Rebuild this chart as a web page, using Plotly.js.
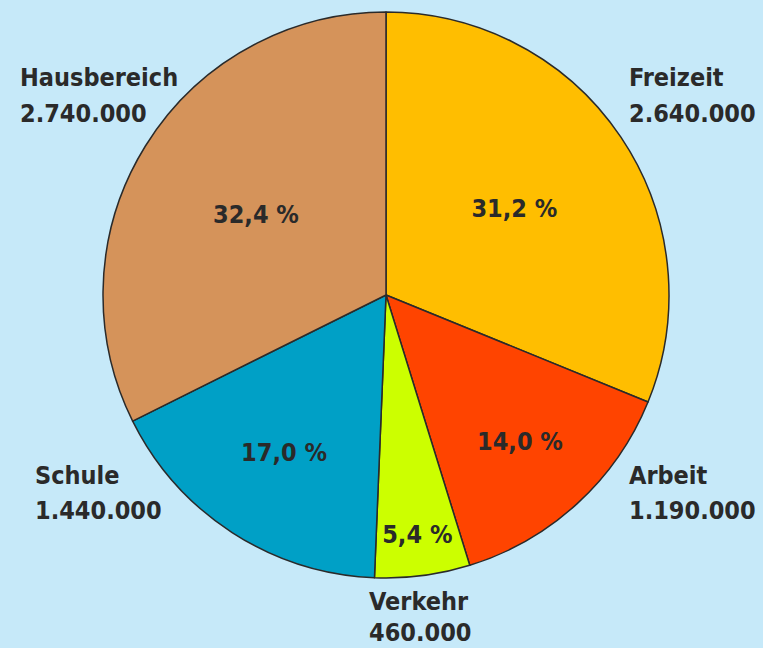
<!DOCTYPE html>
<html>
<head>
<meta charset="utf-8">
<script src="https://cdn.plot.ly/plotly-3.0.1.min.js"></script>
<style>html,body{margin:0;padding:0;background:#c6e9f9;}</style>
</head>
<body>
<div id="chart" style="width:763px;height:648px;"></div>
<script>
const categories = ["Freizeit", "Arbeit", "Verkehr", "Schule", "Hausbereich"];
const values = [2640000, 1190000, 460000, 1440000, 2740000];
const percents = [31.2, 14.0, 5.4, 17.0, 32.4];
const colors = ["#ffbe00", "#ff4400", "#ccff00", "#00a0c6", "#d5935a"];

const pctText = percents.map(p => p.toFixed(1).replace('.', ',') + ' %');
const fmt = v => String(v).replace(/\B(?=(\d{3})+(?!\d))/g, '.');

// outside label anchor positions in pixels: [x left, name centre y, value centre y]
const labelPos = [
  [627, 78, 113],
  [627, 475, 511],
  [367, 601, 632],
  [33, 475, 511],
  [18, 78, 113]
];

const FONT = 'DejaVu Sans Condensed';
const annotations = [];
categories.forEach((c, i) => {
  const [px, ny, vy] = labelPos[i];
  [[c, ny], [fmt(values[i]), vy]].forEach(([t, py]) => {
    annotations.push({
      text: '<b>' + t + '</b>',
      x: px / 763, y: 1 - py / 648,
      xref: 'paper', yref: 'paper',
      xanchor: 'left', yanchor: 'middle', align: 'left',
      showarrow: false,
      font: {family: FONT, size: 25, color: '#2a2a2a'}
    });
  });
});

const trace = {
  type: 'pie',
  labels: categories,
  values: values,
  text: pctText.map(t => '<b>' + t + '</b>'),
  textinfo: 'text',
  textposition: 'inside',
  insidetextorientation: 'horizontal',
  sort: false,
  direction: 'clockwise',
  rotation: 0,
  marker: {colors: colors, line: {color: '#2a2a2a', width: 1.5}},
  textfont: {family: FONT, size: 25, color: '#2a2a2a'},
  hoverinfo: 'none',
  showlegend: false,
  domain: {x: [103 / 763, 669 / 763], y: [1 - 578 / 648, 1 - 12 / 648]}
};

Plotly.newPlot('chart', [trace], {
  width: 763, height: 648,
  margin: {l: 0, r: 0, t: 0, b: 0},
  paper_bgcolor: '#c6e9f9',
  plot_bgcolor: '#c6e9f9',
  showlegend: false,
  annotations: annotations
}, {displayModeBar: false, staticPlot: true});
</script>
</body>
</html>
